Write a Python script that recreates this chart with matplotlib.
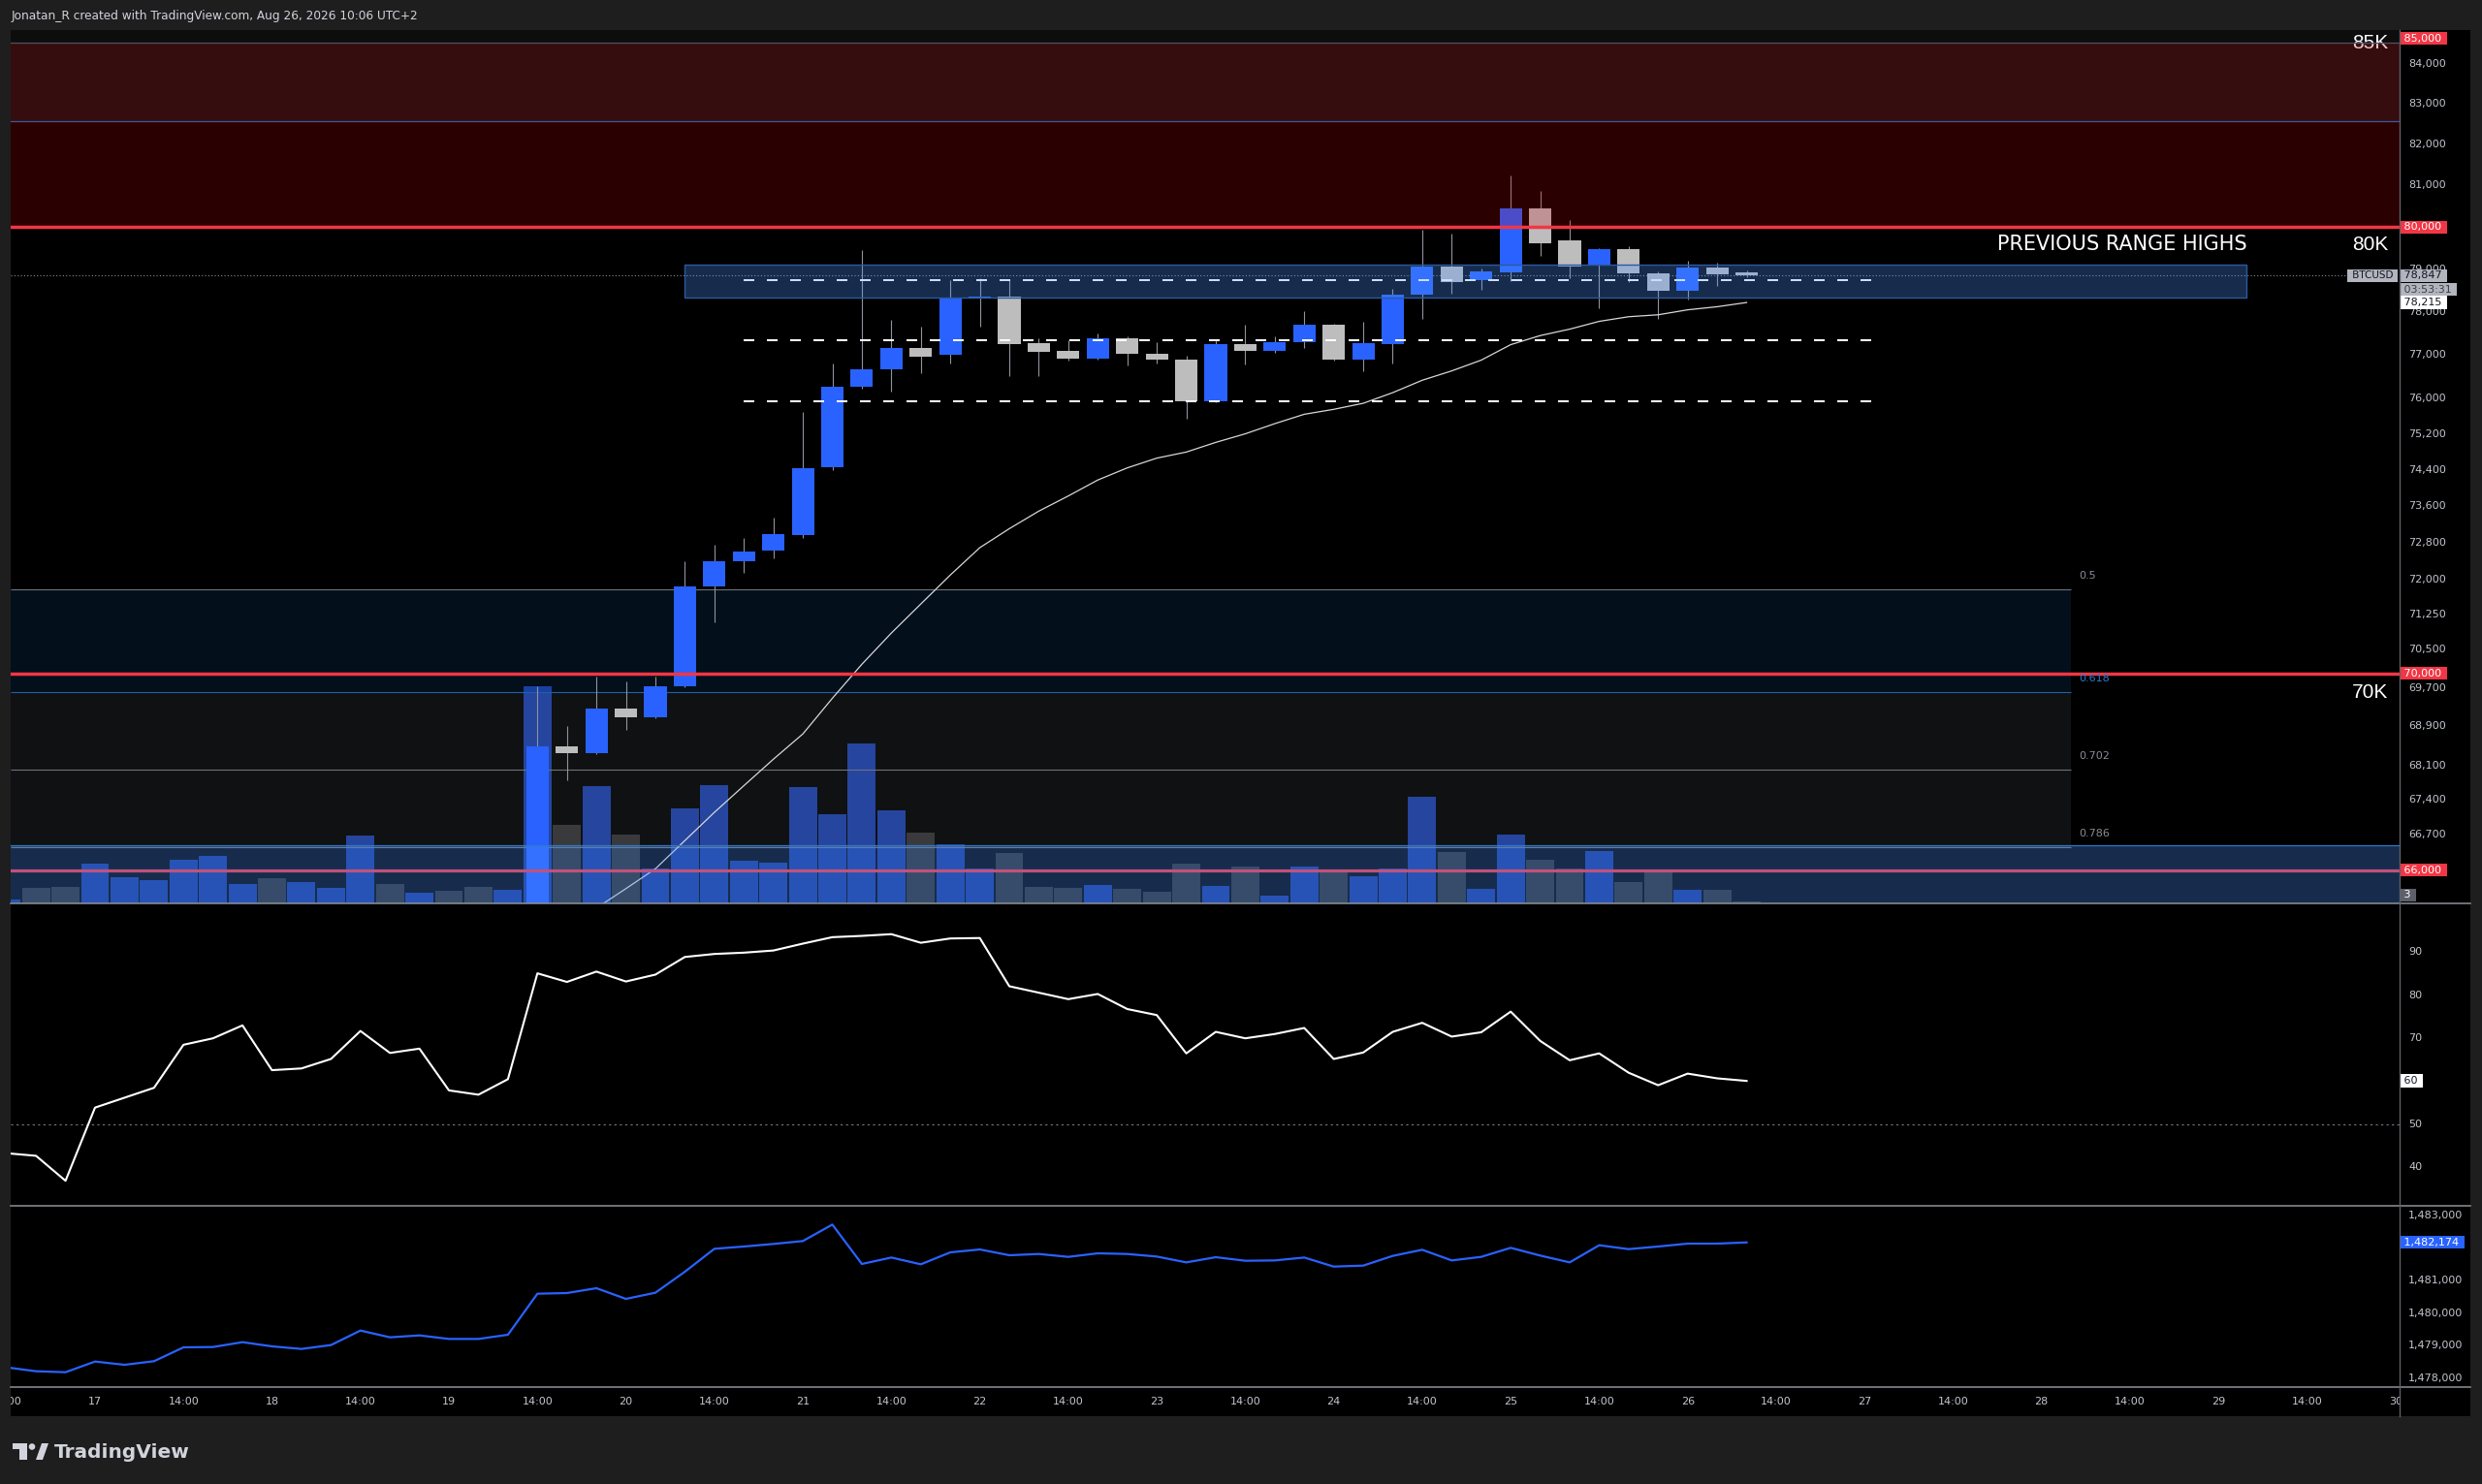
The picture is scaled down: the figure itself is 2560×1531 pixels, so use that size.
import matplotlib
matplotlib.use("Agg")
import matplotlib.pyplot as plt
from matplotlib.patches import Rectangle, Polygon, Circle
from matplotlib.transforms import blended_transform_factory as blend
from matplotlib.ticker import NullLocator
from matplotlib import font_manager

# ===================== DATA =====================
# 4h candles, index 0 = Aug 17 00:00 UTC (02:00 UTC+2)
candle_idx = list(range(15, 57))
opens = [65100, 68490, 68360, 69270, 69095, 69740, 71842, 72380, 72620, 72960,
         74450, 76258, 76676, 77147, 76994, 78303, 78364, 77262, 77088, 76922,
         77372, 77026, 76894, 75935, 77248, 77085, 77286, 77686, 76900, 77255,
         78391, 79060, 78733, 78930, 80455, 79674, 79075, 79480, 78893, 78488,
         79044, 78920]
highs = [69740, 68910, 69930, 69830, 69925, 72380, 72744, 72897, 73331, 75692,
         76810, 79446, 77815, 77650, 78735, 78788, 78755, 77392, 77331, 77495,
         77434, 77291, 76970, 77330, 77700, 77434, 78012, 77715, 77760, 78534,
         79927, 79850, 79021, 81241, 80872, 80180, 79503, 79533, 78945, 79191,
         79152, 78960]
lows = [64900, 67790, 68340, 68836, 69067, 69710, 71075, 72143, 72448, 72900,
        74400, 76227, 76166, 76587, 76809, 77659, 76505, 76505, 76862, 76900,
        76760, 76809, 75552, 75914, 76787, 77050, 77160, 76860, 76631, 76800,
        77822, 78426, 78518, 78717, 79311, 78790, 78092, 78700, 77822, 78283,
        78600, 78800]
closes = [68490, 68360, 69270, 69095, 69730, 71842, 72400, 72592, 72978, 74444,
          76258, 76676, 77147, 76965, 78303, 78364, 77251, 77068, 76922, 77372,
          77026, 76893, 75935, 77248, 77085, 77300, 77686, 76887, 77264, 78398,
          79060, 78695, 78945, 80455, 79620, 79053, 79480, 78900, 78488, 79044,
          78870, 78847]

vol_idx = list(range(-3, 57))
volumes = [40, 160, 167, 407, 267, 237, 453, 487, 200, 257, 223, 157, 700, 200, 107, 130, 167, 137,
           2245, 813, 1212, 707, 363, 983, 1217, 436, 422, 1203, 918, 1653, 960, 730, 615, 363,
           519, 170, 161, 193, 152, 119, 409, 177, 377, 77, 377, 317, 283, 357, 1103, 527, 153,
           707, 453, 360, 543, 223, 343, 137, 137, 23]
vol_up = [1, 0, 0, 1, 1, 1, 1, 1, 1, 0, 1, 1, 1, 0, 1, 0, 0, 1,
          1, 0, 1, 0, 1, 1, 1, 1, 1, 1, 1, 1, 1, 0, 1, 1, 0, 0, 0, 1, 0, 0, 0,
          1, 0, 1, 1, 0, 1, 1, 1, 0, 1, 1, 0, 0, 1, 0, 0, 1, 0, 0]
VOL_TOP = 9013

ma_idx = list(range(17, 57))
ma_vals = [65256, 65636, 66027, 66587, 67151, 67689, 68227, 68745, 69482, 70192,
           70851, 71470, 72092, 72684, 73098, 73483, 73817, 74170, 74440, 74657,
           74793, 75010, 75202, 75431, 75643, 75755, 75892, 76134, 76417, 76631,
           76878, 77235, 77445, 77594, 77775, 77883, 77928, 78044, 78116, 78215]

rsi_idx = list(range(-3, 57))
rsi_vals = [43.3, 42.7, 36.9, 53.9, 56.2, 58.5, 68.5, 70.0, 73.0, 62.6, 63.0, 65.2, 71.7, 66.6,
            67.6, 57.9, 56.9, 60.5,
            85.1, 83.1, 85.5, 83.2, 84.8, 88.9, 89.6, 89.9, 90.4, 92.0,
            93.5, 93.8, 94.2, 92.2, 93.2, 93.3, 82.1, 80.6, 79.1, 80.3,
            76.8, 75.4, 66.5, 71.5, 70.0, 71.0, 72.4, 65.2, 66.7, 71.5,
            73.6, 70.4, 71.4, 76.2, 69.4, 64.9, 66.5, 62.0, 59.1, 61.8,
            60.7, 60.1]

ind_idx = list(range(-3, 57))
ind_vals = [1478337, 1478218, 1478188, 1478516, 1478416, 1478526, 1478952, 1478962, 1479111,
            1478982, 1478903, 1479022, 1479468, 1479260, 1479319, 1479210, 1479210, 1479339,
            1480599, 1480619, 1480768, 1480440, 1480629, 1481274, 1481978, 1482048, 1482127, 1482216,
            1482722, 1481512, 1481710, 1481502, 1481869, 1481958, 1481780, 1481819, 1481730, 1481839,
            1481819, 1481740, 1481561, 1481720, 1481611, 1481621, 1481710, 1481432, 1481462, 1481760,
            1481948, 1481621, 1481730, 1482008, 1481770, 1481561, 1482087, 1481968, 1482048, 1482137,
            1482137, 1482174]

day_ticks = list(range(0, 79, 6))
day_labels = ['17', '18', '19', '20', '21', '22', '23', '24', '25', '26', '27', '28', '29', '30']
hour_ticks = list(range(-3, 78, 6))
hour_labels = ['14:00'] * len(hour_ticks)

price_ticks = [84000, 83000, 82000, 81000, 79000, 78000, 77000, 76000, 75200, 74400, 73600,
               72800, 72000, 71250, 70500, 69700, 68900, 68100, 67400, 66700]
rsi_ticks = [90, 80, 70, 50, 40]
ind_ticks = [1483000, 1481000, 1480000, 1479000, 1478000]

red_levels = [80000, 70000, 66000]
fib_levels = ['0.5', '0.618', '0.702', '0.786']
fib_prices = [71791, 69616, 68020, 66452]
range_lines = [78743, 77332, 75943]
prev_box = (78330, 79105)
low_box_top = 66485
red_zone = (80000, 84537)
gray_zone_bottom = 82568

# ===================== LAYOUT =====================
W, H, DPI = 2560, 1531, 100
fig = plt.figure(figsize=(W / DPI, H / DPI), dpi=DPI, facecolor='#1e1e1e')

PL, PR, AR = 11, 2475, 2548
T_MAIN, B_MAIN, B_RSI, B_IND, B_TIME = 30.7, 932, 1244, 1431, 1461
XL, XR = -2.860, 78.139
Y_LO, Y_HI = 65347, 84864
RSI_LIM = (31.08, 101.35)
IND_LIM = (1477732, 1483298)

names = {f.name for f in font_manager.fontManager.ttflist}
if 'Liberation Sans Narrow' in names:
    TFONT, TSIZE = 'Liberation Sans Narrow', 19.2
else:
    TFONT, TSIZE = 'DejaVu Sans', 15
KFONT = 'Liberation Sans' if 'Liberation Sans' in names else 'DejaVu Sans'

TXT = '#c3c6ce'


def px_ax(x0, y0, x1, y1, z=0):
    a = fig.add_axes([x0 / W, 1 - y1 / H, (x1 - x0) / W, (y1 - y0) / H])
    a.set_zorder(z)
    return a


def clean(a):
    for s in a.spines.values():
        s.set_visible(False)
    a.set_xticks([])
    a.set_yticks([])
    a.xaxis.set_minor_locator(NullLocator())
    a.yaxis.set_minor_locator(NullLocator())
    a.patch.set_visible(False)


# underlay background
ax_under = px_ax(0, 0, W, H, -10)
ax_under.set_xlim(0, W); ax_under.set_ylim(H, 0); ax_under.axis('off')
ax_under.add_patch(Rectangle((PL, T_MAIN), AR - PL, B_TIME - T_MAIN, fc='black', ec='none'))

# ---------- volume axes (below main) ----------
ax_vol = px_ax(PL, T_MAIN, PR, B_MAIN, 1)
ax_vol.bar(vol_idx, volumes, width=0.95,
           color=['#163898' if u else '#2d2d2d' for u in vol_up], linewidth=0)
ax_vol.set_xlim(XL, XR); ax_vol.set_ylim(0, VOL_TOP)
clean(ax_vol)

# ---------- main price axes ----------
ax = px_ax(PL, T_MAIN, PR, B_MAIN, 2)
ax.set_yscale('log')

# fib zones + lines
FIB_END = 67.0
ax.fill_between([XL, FIB_END], fib_prices[1], fib_prices[0], color='#2491ff', alpha=0.11, lw=0, zorder=0.5)
ax.fill_between([XL, FIB_END], fib_prices[3], fib_prices[1], color='#e0e8ff', alpha=0.075, lw=0, zorder=0.5)
fib_cols = ['#6f727b', '#2160a8', '#6f727b', '#6f727b']
ax.hlines(fib_prices, XL, FIB_END, colors=fib_cols, lw=0.8, zorder=1.5)
fib_txt_cols = ['#8a8d96', '#2a7bd0', '#8a8d96', '#8a8d96']
for lab, p, c in zip(fib_levels, fib_prices, fib_txt_cols):
    ax.annotate(lab, xy=(67.25, p), xytext=(0, 10), textcoords='offset points',
                ha='left', va='center', fontsize=8, color=c, zorder=4)

# current price dotted line
ax.hlines(closes[-1], XL, 76.4, colors='#8a8d96', lw=0.8, linestyles=(0, (1, 2)), zorder=1.6)

# candles
bodies_lo = [min(o, c) for o, c in zip(opens, closes)]
bodies_h = [max(abs(c - o), max(o, c) * 0.0004) for o, c in zip(opens, closes)]
ccols = ['#2962ff' if c >= o else '#bdbdbd' for o, c in zip(opens, closes)]
ax.vlines(candle_idx, lows, highs, colors='#8f939c', lw=0.8, zorder=2)
ax.bar(candle_idx, bodies_h, bottom=bodies_lo, width=0.76, color=ccols, linewidth=0, zorder=2.1)

# moving average
ax.plot(ma_idx, ma_vals, color='#d8d8d8', lw=0.9, zorder=2.5)

# 66k red line (under blue box)
ax.axhline(red_levels[2], color='#f23645', lw=2.3, zorder=2.6)

# range dashed lines
ax.hlines(range_lines, 22, 60.6, colors='white', lw=1.44, linestyles=(0, (5.5, 6.5)), zorder=2.8)

# "85K" text under zones
ax.text(77.75, 84513, '85K', ha='right', va='center', color='white', fontsize=15,
        family=KFONT, zorder=2.9)

# zones
ax.axhspan(red_zone[0], red_zone[1], fc='#c80008', alpha=0.22, lw=0, zorder=3)
ax.axhspan(gray_zone_bottom, 90000, fc='#e0e8ff', alpha=0.06, lw=0, zorder=3.05)
ax.axhline(red_zone[1], color='#50535c', lw=0.9, zorder=3.1)
ax.axhline(gray_zone_bottom, color='#3d5a99', lw=0.9, zorder=3.1)
BOXC = (0.31, 0.58, 0.99, 0.30)
ax.add_patch(Rectangle((20, prev_box[0]), 72.95 - 20, prev_box[1] - prev_box[0],
                       fc=BOXC, ec='#2a5a9e', lw=1.0, zorder=3))
ax.axhspan(60000, low_box_top, fc=BOXC, ec='none', zorder=3)
ax.axhline(low_box_top, color='#2f78c8', lw=0.9, zorder=3.1)

# 80k / 70k red lines
ax.axhline(red_levels[0], color='#f23645', lw=2.5, zorder=3.5)
ax.axhline(red_levels[1], color='#f23645', lw=2.5, zorder=3.5)

# texts
ax.text(72.95, 79598, 'PREVIOUS RANGE HIGHS', ha='right', va='center', color='white',
        fontsize=TSIZE, family=TFONT, zorder=4)
ax.text(77.75, 79570, '80K', ha='right', va='center', color='white', fontsize=15, family=KFONT, zorder=4)
ax.text(77.75, 69598, '70K', ha='right', va='center', color='white', fontsize=15, family=KFONT, zorder=4)
ax.text(76.42, closes[-1], ' BTCUSD ', ha='left', va='center', color='#131722', fontsize=7.5,
        bbox=dict(boxstyle='square,pad=0.15', fc='#b2b5be', ec='none'), zorder=5)

ax.set_xlim(XL, XR)
ax.set_ylim(Y_LO, Y_HI)
clean(ax)

# ---------- RSI ----------
ax_rsi = px_ax(PL, B_MAIN, PR, B_RSI, 2)
ax_rsi.axhline(50, color='#787b86', lw=0.8, linestyle=(0, (2, 3)))
ax_rsi.plot(rsi_idx, rsi_vals, color='white', lw=1.5)
ax_rsi.set_xlim(XL, XR); ax_rsi.set_ylim(*RSI_LIM)
clean(ax_rsi)

# ---------- indicator ----------
ax_ind = px_ax(PL, B_RSI, PR, B_IND, 2)
ax_ind.plot(ind_idx, ind_vals, color='#2962ff', lw=1.6)
ax_ind.set_xlim(XL, XR); ax_ind.set_ylim(*IND_LIM)
clean(ax_ind)

# ---------- time axis ----------
ax_t = px_ax(PL, B_IND, PR, B_TIME, 2)
ax_t.set_xlim(XL, XR); ax_t.set_ylim(0, 1)
for x, lab in zip(day_ticks + hour_ticks, day_labels + hour_labels):
    ax_t.text(x, 0.5, lab, ha='center', va='center', fontsize=8, color=TXT, clip_on=True)
clean(ax_t)

# ---------- price columns ----------
ax_pm = px_ax(PR, T_MAIN, AR, B_MAIN, 3)
ax_pm.set_yscale('log'); ax_pm.set_ylim(Y_LO, Y_HI); ax_pm.set_xlim(0, 1)
clean(ax_pm)
ax_pr = px_ax(PR, B_MAIN, AR, B_RSI, 3)
ax_pr.set_ylim(*RSI_LIM); ax_pr.set_xlim(0, 1)
clean(ax_pr)
ax_pi = px_ax(PR, B_RSI, AR, B_IND, 3)
ax_pi.set_ylim(*IND_LIM); ax_pi.set_xlim(0, 1)
clean(ax_pi)

XT = 0.123
for a, ticks in ((ax_pm, price_ticks), (ax_pr, rsi_ticks), (ax_pi, ind_ticks)):
    tr = blend(a.transAxes, a.transData)
    for t in ticks:
        a.text(XT, t, f"{t:,}", transform=tr, ha='left', va='center', fontsize=8, color=TXT, zorder=1)


def badge(a, y, text, fc, tc, trans=None, **kw):
    tr = trans if trans is not None else blend(a.transAxes, a.transData)
    return a.text(0.02, y, ' ' + text + ' ', transform=tr, ha='left', va='center', fontsize=8,
                  color=tc, bbox=dict(boxstyle='square,pad=0.15', fc=fc, ec='none'), zorder=5, **kw)


RED = '#f23645'
badge(ax_pm, 0.990, '85,000', RED, 'white', trans=ax_pm.transAxes)
for lv in red_levels:
    badge(ax_pm, lv, f"{lv:,}", RED, 'white')
badge(ax_pm, closes[-1], f"{closes[-1]:,}", '#b2b5be', '#131722')
ax_pm.annotate(' 03:53:31 ', xy=(0.02, closes[-1]), xycoords=blend(ax_pm.transAxes, ax_pm.transData),
               xytext=(0, -10.3), textcoords='offset points', ha='left', va='center', fontsize=8,
               color='#3a3d45', bbox=dict(boxstyle='square,pad=0.15', fc='#b2b5be', ec='none'), zorder=5)
badge(ax_pm, ma_vals[-1], f"{ma_vals[-1]:,}", 'white', '#131722')
badge(ax_pm, 0.0095, '3', '#5d606b', 'white', trans=ax_pm.transAxes)
badge(ax_pr, rsi_vals[-1], f"{round(rsi_vals[-1])}", 'white', '#131722')
badge(ax_pi, ind_vals[-1], f"{ind_vals[-1]:,}", '#2962ff', 'white')

# ---------- overlay (pixel space) ----------
ax_o = px_ax(0, 0, W, H, 20)
ax_o.set_xlim(0, W); ax_o.set_ylim(H, 0); ax_o.axis('off')
for yy in (B_MAIN, B_RSI, B_IND):
    ax_o.plot([PL, AR], [yy, yy], color='#8e9199', lw=1.1)
ax_o.plot([PR, PR], [T_MAIN, B_TIME], color='#5d606b', lw=1.0)
ax_o.text(12, 16.7, 'Jonatan_R created with TradingView.com, Aug 26, 2026 10:06 UTC+2',
          ha='left', va='center', fontsize=8.7, color='#d1d4dc')
LOGO = '#d1d4dc'
ax_o.add_patch(Rectangle((13, 1489), 15, 6, fc=LOGO, ec='none'))
ax_o.add_patch(Rectangle((20, 1489), 8, 17, fc=LOGO, ec='none'))
ax_o.add_patch(Circle((33, 1492.5), 3.3, fc=LOGO, ec='none'))
ax_o.add_patch(Polygon([(37, 1506), (43, 1489), (50, 1489), (44, 1506)], closed=True, fc=LOGO, ec='none'))
ax_o.text(56, 1498, 'TradingView', ha='left', va='center', fontsize=14.5, fontweight='bold', color=LOGO)

fig.savefig('out.png', dpi=DPI, facecolor=fig.get_facecolor())
